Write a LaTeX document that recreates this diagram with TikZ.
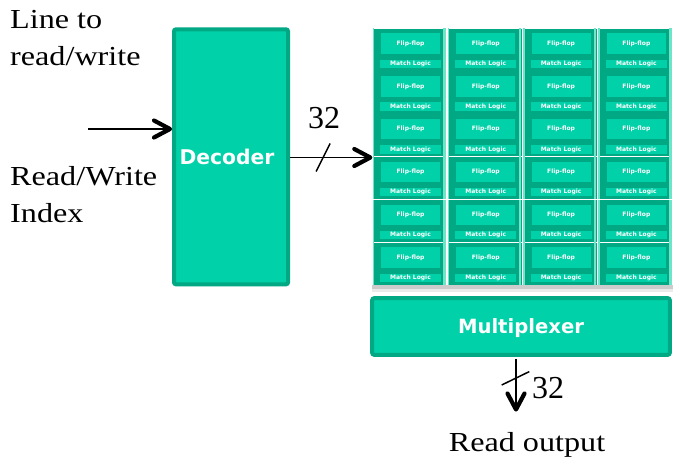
\documentclass[tikz,border=0pt]{standalone}
\usepackage{fontspec}
\usetikzlibrary{calc}
% Serif labels are set slightly widened; block titles use a heavy sans
\newfontfamily\labelfont[FakeStretch=1.17]{Liberation Serif}
\newfontfamily\numfont{Liberation Serif}
\newfontfamily\blockfont{DejaVu Sans}
\definecolor{mint}{RGB}{0,209,168}
\definecolor{mintdark}{RGB}{0,168,132}
\definecolor{mintpale}{RGB}{110,228,200}

\begin{document}
\begin{tikzpicture}[x=1pt,y=-1pt,
  lbl/.style={font=\labelfont\fontsize{27.5}{33}\selectfont, inner sep=0, anchor=base west},
  num/.style={font=\numfont\fontsize{32}{38}\selectfont, inner sep=0},
  block/.style={draw=mintdark, fill=mint, line width=4pt, rounded corners=2pt,
    text=white, font=\blockfont\bfseries\fontsize{19.6}{24}\selectfont, inner sep=0},
  cellbox/.style={fill=mintdark, minimum width=73.5pt, minimum height=42.3pt, inner sep=0},
  ffbox/.style={fill=mint, minimum width=59pt, minimum height=20.5pt, inner sep=0,
    text=white, font=\blockfont\bfseries\fontsize{6}{7}\selectfont},
  mlbox/.style={fill=mint, minimum width=61pt, minimum height=8.4pt, inner sep=0,
    text=white, font=\blockfont\bfseries\fontsize{6}{7}\selectfont},
  wire/.style={line width=1.6pt},
  slash/.style={line width=1.5pt},
  % open chevron head, tip at the pic origin, pointing along +x
  chevron/.pic={\draw[line width=4.2pt, line cap=round, line join=round]
    (-16,-8.5) -- (0,0) -- (-16,8.5);}
]
\useasboundingbox (0,0) rectangle (673,464);

% input labels
\node[lbl] (t1) at (10,28.3) {Line to};
\node[lbl] (t2) at (10,65) {read/write};
\node[lbl] (t3) at (10,185) {Read/Write};
\node[lbl] (t4) at (10,222.7) {Index};

% decoder block
\node[block, minimum width=114pt, minimum height=255pt] (dec) at (231,156.8) {};
\node[text=white, font=\blockfont\bfseries\fontsize{20.3}{24}\selectfont, inner sep=0, text depth=0pt] (declbl) at (227,157) {Decoder};

% storage array: 4 x 6 cells of flip-flop + match logic
\node[minimum width=300pt, minimum height=258pt, inner sep=0] (grid) at (523,157.5) {};
\fill[black!20] (372,284.5) rectangle (673,288.5);
\fill[black!8] (372,288.5) rectangle (673,292);
\foreach \i in {0,...,3} \foreach \j in {0,...,5} {
  \pgfmathsetmacro\cx{372.5+75.3*\i}
  \pgfmathsetmacro\cy{28.3+42.8*\j}
  \node[cellbox, anchor=north west] (cell-\i-\j) at (\cx,\cy) {};
  \fill[mintpale] (cell-\i-\j.north west) rectangle ([xshift=1.6pt]cell-\i-\j.south west);
  \fill[mintpale] ([xshift=-3.2pt]cell-\i-\j.north east) rectangle ([xshift=-0.6pt]cell-\i-\j.south east);
  \node[ffbox] (ff-\i-\j) at ($(cell-\i-\j.north west)+(38,15.3)$) {Flip-flop};
  \node[mlbox] (ml-\i-\j) at ($(cell-\i-\j.north west)+(38,35.5)$) {Match Logic};
}

% multiplexer
\node[block, minimum width=297.6pt, minimum height=56.6pt, text depth=0pt] (mux) at (521,326.5) {Multiplexer};

% index input into the decoder
\coordinate (inp) at (88,129);
\coordinate (inptip) at ([xshift=-2pt]inp -| dec.west);
\draw[wire] (inp) -- (inptip);
\pic at (inptip) {chevron};

% 32-bit select bus from decoder to the array
\coordinate (busin) at (dec.east |- grid.west);
\coordinate (bustip) at ([xshift=-2.5pt]grid.west);
\draw[wire] (busin) -- (bustip);
\pic at (bustip) {chevron};
\coordinate (s1) at ($(busin)!0.4!(grid.west)$);
\draw[slash] (s1) +(-7,14) -- +(7,-14);
\node[num] (n1) at (324,118) {32};

% 32-bit read port out of the multiplexer
\coordinate (muxbot) at ([yshift=-2pt]mux.south);
\coordinate (outend) at (516,409.5);
\draw[wire] (outend |- muxbot) -- (outend);
\pic[rotate=-90] at (outend) {chevron};
\coordinate (s2) at (515.5,378.3);
\draw[slash] (s2) +(-13.8,6.7) -- +(13.8,-6.7);
\node[num] (n2) at (548,388) {32};

\node[lbl, anchor=base] (t5) at (527,451) {Read output};
\end{tikzpicture}
\end{document}
